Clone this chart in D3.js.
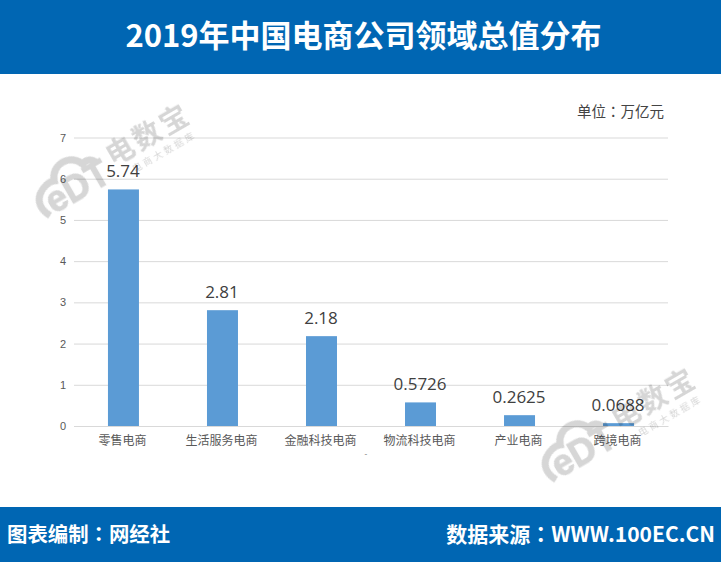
<!DOCTYPE html>
<html>
<head>
<meta charset="utf-8">
<script src="https://cdn.jsdelivr.net/npm/d3@7/dist/d3.min.js"></script>
<style>
html,body{margin:0;padding:0;background:#fff;}
svg{display:block;}
text{font-family:"Noto Sans CJK SC","Noto Sans",sans-serif;}
.colon{font-family:"Noto Sans CJK TC",sans-serif;}
</style>
</head>
<body>
<svg id="chart" width="721" height="562"></svg>
<script>
var categories = ['零售电商','生活服务电商','金融科技电商','物流科技电商','产业电商','跨境电商'];
var values = [5.74,2.81,2.18,0.5726,0.2625,0.0688];
var valueLabels = ['5.74','2.81','2.18','0.5726','0.2625','0.0688'];
var yTicks = [0,1,2,3,4,5,6,7];
var watermarks = [[115,162],[621,426]];

var svg = d3.select('#chart');
var blue = '#0066b3';

svg.append('rect').attr('width',721).attr('height',74).attr('fill',blue);
svg.append('rect').attr('y',507).attr('width',721).attr('height',55).attr('fill',blue);

// text with a centred full-width colon
function colonText(sel, before, after){
	sel.append('tspan').text(before);
	sel.append('tspan').attr('class','colon').text('：');
	sel.append('tspan').text(after);
}

svg.append('text').attr('x',363.5).attr('y',47).attr('text-anchor','middle')
	.attr('fill','#fff').attr('font-size',31).attr('font-weight',700)
	.text('2019年中国电商公司领域总值分布');
svg.append('text').attr('x',7).attr('y',542)
	.attr('fill','#fff').attr('font-size',20.4).attr('font-weight',700)
	.call(colonText,'图表编制','网经社');
svg.append('text').attr('x',715).attr('y',542).attr('text-anchor','end')
	.attr('fill','#fff').attr('font-size',21).attr('font-weight',700)
	.call(colonText,'数据来源','WWW.100EC.CN');
svg.append('text').attr('x',664).attr('y',117).attr('text-anchor','end')
	.attr('fill','#444').attr('font-size',14.5)
	.call(colonText,'单位','万亿元');

var x = d3.scaleBand().domain(categories).range([74,668]).paddingInner(0.687).paddingOuter(0.343);
var y = d3.scaleLinear().domain([0,7]).range([426,137.5]);

// gridlines and tick labels
var yAxis = svg.append('g').attr('transform','translate(74,0)')
	.call(d3.axisLeft(y).tickValues(yTicks).tickSize(-594).tickPadding(8).tickFormat(d3.format('d')));
yAxis.select('.domain').remove();
yAxis.selectAll('line').attr('stroke','#d9d9d9');
yAxis.selectAll('text').attr('fill','#595959').attr('font-size',11)
	.style('font-family','"Liberation Sans",sans-serif');

svg.append('g').selectAll('rect').data(categories).enter().append('rect')
	.attr('x',function(d){ return x(d); })
	.attr('width',x.bandwidth())
	.attr('y',function(d,i){ return y(values[i]); })
	.attr('height',function(d,i){ return y(0)-y(values[i]); })
	.attr('fill','#5b9bd5');

var xAxis = svg.append('g').attr('transform','translate(-1,426)')
	.call(d3.axisBottom(x).tickSize(0).tickPadding(10));
xAxis.select('.domain').attr('stroke','#d9d9d9').attr('transform','translate(1,0)');
xAxis.selectAll('text').attr('fill','#595959').attr('font-size',12)
	.style('font-family','"Noto Sans CJK SC",sans-serif');

svg.append('g').selectAll('text').data(categories).enter().append('text')
	.attr('x',function(d){ return x(d)+x.bandwidth()/2-0.5; })
	.attr('y',function(d,i){ return y(values[i])-12; })
	.attr('text-anchor','middle')
	.attr('fill','#404040').attr('font-size',17)
	.style('font-family','"Open Sans",sans-serif')
	.text(function(d,i){ return valueLabels[i]; });

// stray dash under the axis
svg.append('text').attr('x',366).attr('y',457).attr('text-anchor','middle')
	.attr('fill','#666').attr('font-size',8).text('-');

// logo watermark, multiplied so the chart shows through it
var marks = svg.append('g').style('mix-blend-mode','multiply');
var markGrey = '#d6d6d6';
watermarks.forEach(function(p){
	var g = marks.append('g').attr('transform','translate('+p[0]+','+p[1]+') rotate(-30)');
	g.append('path')
		.attr('d','M-83,14 C-95,-8 -72,-18 -62,-14 C-57,-30 -34,-30 -29,-14 C-25,-17 -19,-15 -17,-10')
		.attr('fill','none').attr('stroke',markGrey).attr('stroke-width',7);
	g.append('text').attr('x',-79).attr('y',15)
		.attr('fill',markGrey).attr('stroke',markGrey).attr('stroke-width',1)
		.attr('font-size',36).attr('font-weight',700)
		.style('font-family','"Liberation Sans",sans-serif').text('eDT');
	g.append('text').attr('x',-4).attr('y',3)
		.attr('fill',markGrey).attr('font-size',28).attr('font-weight',700).attr('letter-spacing',3)
		.text('电数宝');
	g.append('text').attr('x',12).attr('y',19)
		.attr('fill',markGrey).attr('font-size',9).attr('letter-spacing',3)
		.text('电商大数据库');
});
</script>
</body>
</html>
